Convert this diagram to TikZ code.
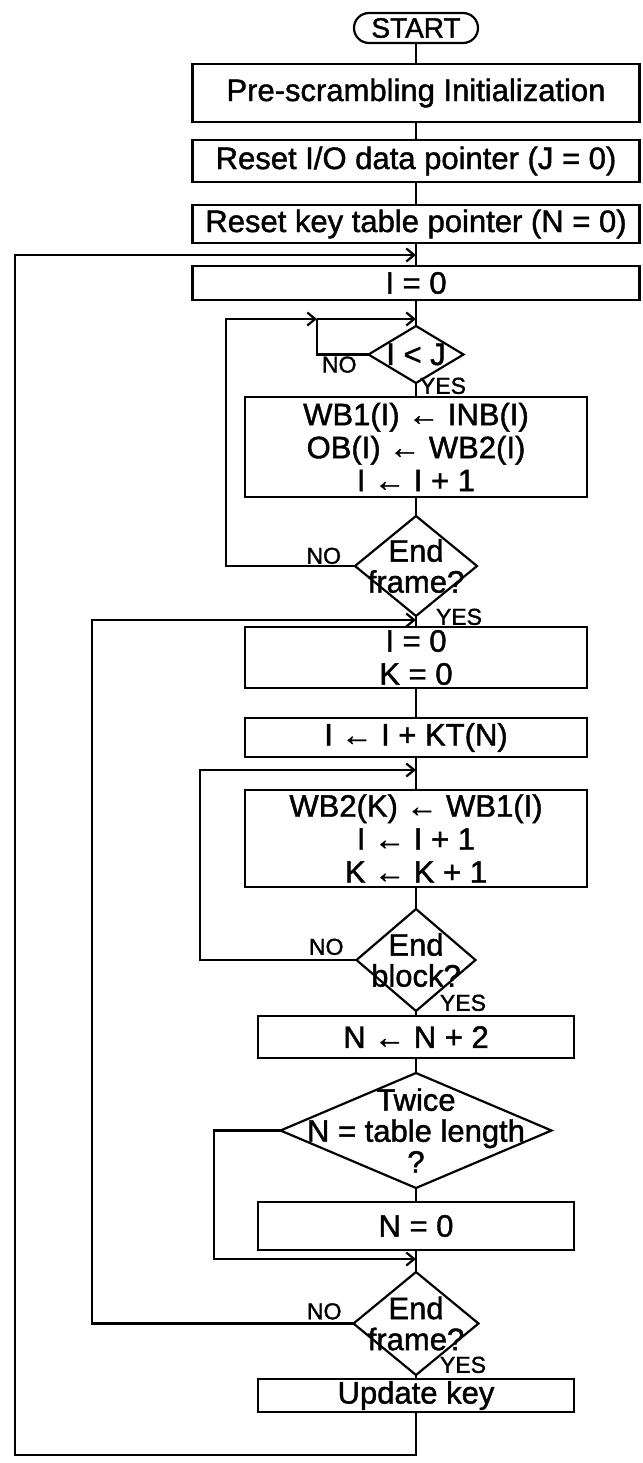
\documentclass[tikz,border=0pt]{standalone}
\usepackage{fontspec}
\setmainfont{Liberation Sans}[FakeBold=1.4]
\usetikzlibrary{arrows.meta,positioning,calc,shapes.geometric}

\begin{document}
\begin{tikzpicture}[
        x=1pt, y=1pt,
        line width=2.2pt,
        every node/.append style={outer sep=0pt},
        box/.style={draw, minimum width=447pt, inner sep=0pt, align=center, font=\fontsize{31}{33}\selectfont},
        sbox/.style={box, minimum width=342pt},
        nbox/.style={box, minimum width=316pt},
        dec/.style={draw, diamond, inner sep=0pt},
        dtxt/.style={align=center, inner sep=0pt, font=\fontsize{31}{31}\selectfont},
        yn/.style={inner sep=0pt, font=\fontsize{23}{23}\selectfont},
        arr/.style={-{Straight Barb[length=8pt,width=13pt]}}
    ]
        \useasboundingbox (0,0) rectangle (642,-1463);

        \node[draw, rounded corners=15pt, minimum width=124pt, minimum height=30pt, inner sep=0pt, font=\fontsize{28}{28}\selectfont] (start) at (416,-28) {START};
        \node[box, minimum height=58pt, below=21pt of start] (b1) {Pre-scrambling Initialization};
        \node[box, minimum height=42pt, below=18pt of b1] (b2) {Reset I/O data pointer (J = 0)};
        \node[box, minimum height=38pt, below=23pt of b2] (b3) {Reset key table pointer (N = 0)};
        \node[box, minimum height=34pt, below=23pt of b3] (b4) {I = 0};
        \node[dec, minimum width=95pt, minimum height=57pt, below=26pt of b4, label={[dtxt]center:I < J}] (d1) {};
        \node[sbox, minimum height=100pt, below=14pt of d1] (b5) {WB1(I) ← INB(I)\\OB(I) ← WB2(I)\\I ← I + 1};
        \node[dec, minimum width=122pt, minimum height=100pt, below=19pt of b5, label={[dtxt]center:End\\frame?}] (d2) {};
        \node[sbox, minimum height=61pt, below=11pt of d2] (b6) {I = 0\\K = 0};
        \node[sbox, minimum height=39pt, below=30pt of b6] (b7) {I ← I + KT(N)};
        \node[sbox, minimum height=97pt, below=33pt of b7] (b8) {WB2(K) ← WB1(I)\\I ← I + 1\\K ← K + 1};
        \node[dec, minimum width=119pt, minimum height=102pt, below=22pt of b8, label={[dtxt]center:End\\block?}] (d3) {};
        \node[nbox, minimum height=42pt, below=5pt of d3] (b9) {N ← N + 2};
        \node[dec, minimum width=271pt, minimum height=115pt, below=15pt of b9, label={[dtxt]center:Twice\\N = table length\\?}] (d4) {};
        \node[nbox, minimum height=48pt, below=14pt of d4] (b10) {N = 0};
        \node[dec, minimum width=125pt, minimum height=103pt, below=22pt of b10, label={[dtxt]center:End\\frame?}] (d5) {};
        \node[nbox, minimum height=33pt, below=4pt of d5] (b11) {Update key};

        \node[yn, anchor=north east] at ($(d1.west)+(-12,-2)$) (no1) {NO};
        \node[yn, anchor=south west] at ($(d1.south)+(4,-11)$) (yes1) {YES};
        \node[yn, anchor=south east] at ($(d2.west)+(-14,2)$) (no2) {NO};
        \node[yn, anchor=south west] at ($(d2.south)+(20,-9)$) (yes2) {YES};
        \node[yn, anchor=south east] at ($(d3.west)+(-13,5)$) (no3) {NO};
        \node[yn, anchor=south west] at ($(d3.south)+(24,0)$) (yes3) {YES};
        \node[yn, anchor=south east] at ($(d5.west)+(-12,4)$) (no5) {NO};
        \node[yn, anchor=south west] at ($(d5.south)+(24,2)$) (yes5) {YES};

        \coordinate (m0) at ($(b4.north)+(0,11)$);
        \coordinate (m1) at ($(d1.north)+(0,7)$);
        \coordinate (j1) at ($(m1)+(-99,0)$);
        \coordinate (m2) at ($(b6.north)+(0,7)$);
        \coordinate (m3) at ($(b8.north)+(0,20)$);
        \coordinate (m4) at ($(d5.north)+(0,13)$);

        \draw (start) -- (b1);
        \draw (b1) -- (b2);
        \draw (b2) -- (b3);
        \draw (b3) -- (b4);
        \draw (b4) -- (d1);
        \draw (d1) -- (b5);
        \draw (b5) -- (d2);
        \draw (d2) -- (b6);
        \draw (b6) -- (b7);
        \draw (b7) -- (b8);
        \draw (b8) -- (d3);
        \draw (d3) -- (b9);
        \draw (b9) -- (d4);
        \draw (d4) -- (b10);
        \draw (b10) -- (d5);
        \draw (d5) -- (b11);

        \draw (d1.west) -| (j1);
        \draw[arr] (d2.west) -- ++(-129,0) |- (j1);
        \draw[arr] (j1) -- (m1);
        \draw[arr] (d5.west) -- ++(-261.5,0) |- (m2);
        \draw[arr] (d3.west) -- ++(-156.5,0) |- (m3);
        \draw[arr] (d4.west) -- ++(-66.5,0) |- (m4);
        \draw[arr] (b11.south) -- ++(0,-43) -- ++(-401,0) |- (m0);
    \end{tikzpicture}
\end{document}
